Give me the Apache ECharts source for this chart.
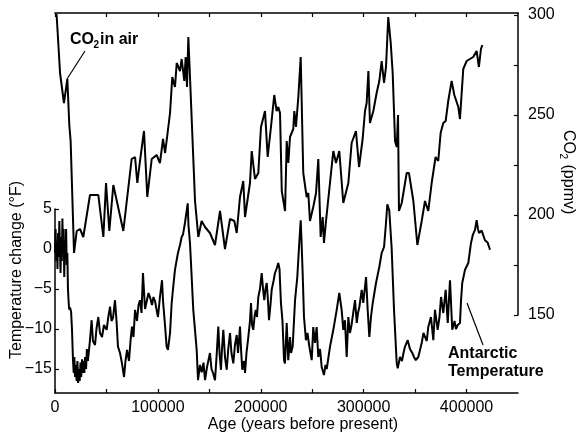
<!DOCTYPE html>
<html><head><meta charset="utf-8">
<script src="https://cdn.jsdelivr.net/npm/echarts@6/dist/echarts.min.js"></script>
<style>html,body{margin:0;padding:0;background:#fff}#c{width:579px;height:436px}</style>
</head><body><div id="c"></div>
<script>
// ---- data (years before present) ----
const co2Ages = [1500,3200,4900,8700,12000,13900,15200,18500,21100,24300,27500,34000,42100,47000,49600,52800,56700,66400,74500,77800,80000,82600,86500,89700,94000,98800,102000,105000,107000,109200,111800,114000,116600,118300,121500,123100,125700,127000,128300,129600,131200,136100,139300,142500,145800,150600,155500,160400,165200,170100,174300,176600,179800,183000,184700,189500,191200,192700,194400,197600,200200,204100,206700,209900,213100,215400,217000,218700,220400,223600,225200,226800,228400,231600,232600,234200,236500,238800,241300,244600,246200,247800,251000,253700,255900,258200,260200,261400,263400,270500,273100,276300,280200,285100,288300,292500,295500,299000,301300,302900,304600,306100,309400,312600,315200,317500,319800,321700,323900,326300,328200,330500,332100,333400,334300,337000,341800,344000,348300,352200,356400,359600,362800,366100,369900,372500,374800,377400,379700,382200,385500,388100,392000,393600,396800,400100,406500,409800,412000,414000,415300];
const co2Values = [300.5,286,271,256,268,245,237,181,192,193,189,210,210,189,216,192,215,192,228,229,216,227,242,209,228,230,226,238,231,240,251,269,264,276,272,278,267,279,264,289,269,207,189,197,194,191,185,202,183,198,197,191,209,217,199,216,232,232,218,221,244,252,229,244,260,252,254,251,212,202,237,226,239,243,252,244,259,279,221,209,211,197,204,211,228,189,199,186,197,232,226,232,206,216,236,242,224,238,252,256,272,246,252,261,267,277,266,274,299,286,271,237,234,250,202,206,221,221,207,185,197,207,202,216,229,227,241,246,247,257,267,260,254,248,273,277,279,282,274,283,285];

const tempAges = [0,600,1200,1800,2400,3000,3600,4200,4800,5400,6000,6600,7200,7800,8400,9000,9600,10200,10800,11400,12000,12600,13200,13800,14600,15600,16500,17500,18200,18800,19500,20200,21000,21800,22500,23300,24000,24800,25500,26300,27000,27800,28500,29200,30200,31000,32000,34000,35600,36900,38900,40300,42100,43700,45700,47600,50200,51800,53500,54900,56400,58300,59800,61200,63200,65100,67100,68500,70000,71900,73400,74800,76300,77800,79700,81200,82600,84100,85500,87500,89400,90900,92300,94300,95700,97200,98600,100100,102000,104000,105000,106900,108500,109800,111800,113400,114700,116600,118100,119500,121500,123100,124400,126300,127800,129000,129700,131200,134400,137700,139000,140900,142600,144300,145800,147700,150600,152100,153600,155500,157000,158700,159900,161300,162300,163600,165200,166900,168400,170100,171500,173300,174900,176600,177900,179800,180800,182000,183700,184700,186100,187900,189500,190500,191500,192700,193900,195100,196300,197600,199200,200900,202200,203400,204600,205800,207000,208000,209400,210600,212400,213800,215300,217000,218200,219600,221100,222600,223500,225200,226700,228400,229400,231000,233300,235500,237400,238800,239600,240700,242000,243900,245400,247200,249500,251000,252700,254300,255900,257600,259200,261400,262900,264100,265800,267300,270500,273800,276300,278600,280200,281800,283500,285100,286700,288200,289300,291600,293300,294500,295800,298100,299600,302300,303900,305500,307100,308800,312000,315200,317500,319800,321700,323000,324900,327200,329500,332100,333100,335300,337200,338700,340200,342800,345000,347300,348900,350600,353100,356400,358100,359600,361300,362800,365400,367700,369300,371900,373700,375200,377400,379700,381700,383900,386100,388300,389700,391400,393600,394600,395800,398500,401700,404300,406200,408200,409800,411100,412100,414700,416400,417900,420500,422800];
const tempValues = [-0.5,2.5,-1.5,1,-2.5,2,-1,3.5,0,-3,1.5,-1.5,3.8,-0.5,2.5,-3.5,1,-1,2.5,-2,-0.5,-5,-6.5,-7.6,-7.3,-7.8,-10,-13.9,-15.5,-13.5,-16,-14.5,-16.5,-14,-16.75,-15,-16.5,-14.2,-16,-13.8,-15.5,-14,-15.5,-13.5,-15,-12.5,-14,-11.4,-8.9,-11.5,-12,-10,-8.5,-10.5,-11,-9.5,-10.1,-8.5,-7.2,-9,-8.6,-6.4,-9,-12.2,-13,-14.3,-16,-14,-12.6,-14,-11.5,-9.7,-11,-7.6,-9,-7,-6.4,-8,-3,-7.5,-7.6,-5.5,-6,-7,-6,-6.5,-7.5,-8.5,-6,-3.9,-6.5,-9.5,-12.2,-12.6,-10.5,-6.75,-5,-2.6,-1.5,-0.5,0.5,1.5,1.8,3.25,3.5,5.7,3,0.75,-7.6,-12.6,-16.4,-14.5,-15.4,-14.2,-16.4,-14.8,-13,-15,-15.5,-16.4,-13.5,-9.7,-13,-15.1,-12.5,-10.1,-13.5,-15.1,-12.5,-10.5,-13,-14.3,-12,-10.75,-13,-9.7,-12.5,-15.1,-14,-15.5,-13,-11,-9,-6.75,-9.5,-10.1,-8.5,-7.6,-8.5,-6,-5,-3,-5,-6.4,-5,-4.25,-6.5,-8.9,-7,-5.1,-4,-3,-2.5,-1.75,-2.5,-6.75,-9,-13.9,-14.3,-9.25,-13.9,-11,-13,-12.2,-6.4,-3.5,0.75,3.6,1,-3,-8.5,-11.4,-10.5,-12.2,-13.9,-9.75,-11.75,-9.75,-13.5,-12.5,-14.75,-15.75,-14.5,-15,-13.5,-12.2,-10.1,-7.6,-5.5,-7.6,-10.1,-8.9,-13.5,-8.5,-10.5,-9.5,-9.75,-6.4,-9.25,-8,-7.25,-5.1,-6.75,-3.5,-7.6,-11,-8.5,-6.75,-4.25,-2.25,-0.5,0.25,3.25,5.6,4.8,0.1,-7.6,-14.25,-14.9,-13.5,-14,-13,-12.2,-11.4,-12.5,-13,-13.5,-13.9,-13.5,-11.75,-10.5,-10.5,-11.5,-9.75,-8.5,-11.4,-7.6,-10.1,-8.5,-6,-8,-5.1,-9.25,-3.9,-10.1,-9,-10,-9.5,-9.25,-6.5,-4.25,-2.6,-1.75,0.75,1.8,2.4,3.6,2.5,2,2.3,2.4,1.1,0.8,-0.1];

const xLabelValues = [0,100000,200000,300000,400000];
const xTickValues = [0,50000,100000,150000,200000,250000,300000,350000,400000];
const tempTickValues = [-15,-10,-5,0,5];
const co2LabelValues = [150,200,250,300];
const co2TickValues = [150,175,200,225,250,275,300];

// ---- chart ----
const FONT = '"Liberation Sans", Arial, Helvetica, sans-serif';
const BLACK = '#000';
const zip = (a, b) => a.map((v, i) => [v, b[i]]);
const axisLine = {show: true, onZero: false, lineStyle: {color: BLACK, width: 1.5}};
const tickStyle = {color: BLACK, width: 1.2};

const ctx = document.createElement('canvas').getContext('2d');
function tw(text, size, weight) { ctx.font = (weight || 'normal') + ' ' + size + 'px ' + FONT; return ctx.measureText(text).width; }

function co2Label(x, y, rotation, size, weight, suffix) {
  const wCO = tw('CO', size, weight);
  const sub = Math.round(size * 0.62);
  const w2 = tw('2', sub, weight);
  const base = {fontFamily: FONT, fontWeight: weight, fill: BLACK, textAlign: 'left', textVerticalAlign: 'middle'};
  return {
    type: 'group', x: x, y: y, rotation: rotation, silent: true,
    children: [
      {type: 'text', x: 0, y: 0, style: Object.assign({}, base, {text: 'CO', fontSize: size})},
      {type: 'text', x: wCO - 0.5, y: size * 0.33, style: Object.assign({}, base, {text: '2', fontSize: sub})},
      {type: 'text', x: wCO + w2 + 0.5, y: 0, style: Object.assign({}, base, {text: suffix, fontSize: size})}
    ]
  };
}

const chart = echarts.init(document.getElementById('c'), null, {renderer: 'canvas'});
chart.setOption({
  animation: false,
  backgroundColor: '#fff',
  textStyle: {fontFamily: FONT},
  grid: [
    {left: 55, right: 61, top: 13, bottom: 121},
    {left: 55, right: 61, top: 209, bottom: 43}
  ],
  xAxis: [
    {gridIndex: 0, type: 'value', min: 0, max: 450000, position: 'top',
     axisLine: axisLine,
     axisTick: {show: true, inside: true, length: 4, customValues: xTickValues, lineStyle: tickStyle},
     axisLabel: {show: false}, splitLine: {show: false}},
    {gridIndex: 1, type: 'value', min: 0, max: 450000, position: 'bottom',
     axisLine: axisLine,
     axisTick: {show: true, inside: true, length: 4, customValues: xTickValues, lineStyle: tickStyle},
     axisLabel: {customValues: xLabelValues, fontSize: 16, color: BLACK, margin: 7, fontFamily: FONT,
       formatter: v => String(v)},
     splitLine: {show: false}}
  ],
  yAxis: [
    {gridIndex: 0, type: 'value', min: 150, max: 301, position: 'right',
     axisLine: axisLine,
     axisTick: {show: true, inside: true, length: 4, customValues: co2TickValues, lineStyle: tickStyle},
     axisLabel: {customValues: co2LabelValues, fontSize: 16, color: BLACK, margin: 10, fontFamily: FONT,
       formatter: v => String(v)},
     splitLine: {show: false}},
    {gridIndex: 1, type: 'value', min: -18, max: 5, position: 'left',
     axisLine: axisLine,
     axisTick: {show: true, inside: true, length: 4, customValues: tempTickValues, lineStyle: tickStyle},
     axisLabel: {customValues: tempTickValues, fontSize: 16, color: BLACK, margin: 3, fontFamily: FONT,
       formatter: v => v < 0 ? '\u2212' + Math.abs(v) : String(v)},
     splitLine: {show: false}}
  ],
  series: [
    {type: 'line', xAxisIndex: 0, yAxisIndex: 0, data: zip(co2Ages, co2Values), symbol: 'none', clip: false,
     lineStyle: {color: BLACK, width: 2}},
    {type: 'line', xAxisIndex: 1, yAxisIndex: 1, data: zip(tempAges, tempValues), symbol: 'none', clip: false,
     lineStyle: {color: BLACK, width: 2}}
  ],
  graphic: [
    co2Label(70, 40, 0, 16, 'bold', 'in air'),
    co2Label(568, 130, -Math.PI / 2, 16, 'normal', ' (ppmv)'),
    {type: 'text', x: 17, y: 270, rotation: Math.PI / 2, silent: true,
     style: {text: 'Temperature change (\u00b0F)', fontSize: 16, fontFamily: FONT, fill: BLACK, textAlign: 'center', textVerticalAlign: 'middle'}},
    {type: 'text', x: 303, y: 425, silent: true,
     style: {text: 'Age (years before present)', fontSize: 16, fontFamily: FONT, fill: BLACK, textAlign: 'center', textVerticalAlign: 'middle'}},
    {type: 'text', x: 448, y: 354, silent: true,
     style: {text: 'Antarctic', fontSize: 16, fontWeight: 'bold', fontFamily: FONT, fill: BLACK, textAlign: 'left', textVerticalAlign: 'middle'}},
    {type: 'text', x: 448, y: 372, silent: true,
     style: {text: 'Temperature', fontSize: 16, fontWeight: 'bold', fontFamily: FONT, fill: BLACK, textAlign: 'left', textVerticalAlign: 'middle'}},
    {type: 'line', silent: true, shape: {x1: 85, y1: 51, x2: 67, y2: 79}, style: {stroke: BLACK, lineWidth: 1.2}},
    {type: 'line', silent: true, shape: {x1: 467, y1: 303, x2: 483, y2: 345}, style: {stroke: BLACK, lineWidth: 1.2}}
  ]
});
</script>
</body></html>
